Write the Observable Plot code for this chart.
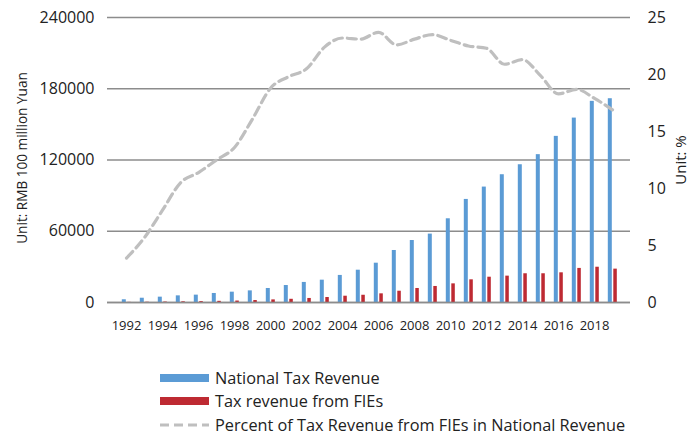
<!DOCTYPE html>
<html>
<head>
<meta charset="utf-8">
<script src="https://cdn.jsdelivr.net/npm/d3@7"></script>
<script src="https://cdn.jsdelivr.net/npm/@observablehq/plot@0.6"></script>
<style>
  body { margin: 0; background: #fff; font-family: "Open Sans", sans-serif; }
  #wrap { position: relative; width: 689px; height: 437px; }
  #legend { position: absolute; left: 160px; top: 366px; font-size: 16.3px; color: #222; }
  .row { display: flex; align-items: center; height: 23.5px; white-space: nowrap; }
  .row svg { margin-right: 6px; }
</style>
</head>
<body>
<div id="wrap">
  <div id="chart"></div>
  <div id="legend"></div>
</div>
<script>
const years = [1992,1993,1994,1995,1996,1997,1998,1999,2000,2001,2002,2003,2004,2005,
               2006,2007,2008,2009,2010,2011,2012,2013,2014,2015,2016,2017,2018,2019];
const nationalTax = [2300,3600,4500,5600,6200,7600,8700,9800,11800,14300,16900,18800,22800,27200,
                     33100,43800,52200,57600,70500,86800,97200,107600,116000,124500,139900,155300,169400,171600];
const fieTax = [120,230,400,600,760,990,1230,1650,2200,2700,3400,4200,5300,6100,
                7300,9500,11800,13500,15700,19100,21300,22200,24200,24200,25000,28700,29700,28100];
const fiePercent = [3.9,5.7,8.1,10.5,11.4,12.5,13.6,16.1,18.8,19.8,20.5,22.4,23.2,23.1,
                    23.7,22.6,23.1,23.5,23.0,22.5,22.3,20.9,21.3,19.9,18.3,18.7,17.9,16.9];
const leftTicks = [0, 60000, 120000, 180000, 240000];
const rightTicks = [0, 5, 10, 15, 20, 25];
const xTicks = [1992,1994,1996,1998,2000,2002,2004,2006,2008,2010,2012,2014,2016,2018];
const seriesNames = ["National Tax Revenue", "Tax revenue from FIEs", "Percent of Tax Revenue from FIEs in National Revenue"];
const colors = ["#5b9bd5", "#be2a32", "#bfbfbf"];

const pctFactor = 240000 / 25; // maps right axis (%) onto left axis domain

const rows = years.map((y, i) => ({year: y, national: nationalTax[i], fie: fieTax[i], pct: fiePercent[i]}));

const chart = Plot.plot({
  width: 689,
  height: 340,
  marginLeft: 107,
  marginRight: 59,
  marginTop: 17,
  marginBottom: 38,
  style: {fontFamily: "Open Sans, sans-serif", color: "#222", background: "#fff", overflow: "visible"},
  x: {type: "band", domain: years, padding: 0},
  y: {domain: [0, 240000]},
  marks: [
    Plot.ruleY(leftTicks, {stroke: "#8c8c8c", strokeWidth: 1.6}),
    Plot.barY(rows, {x: "year", y: "national", fill: colors[0], insetLeft: 4.8, insetRight: 9.2}),
    Plot.barY(rows, {x: "year", y: "fie", fill: colors[1], insetLeft: 10.3, insetRight: 4.2}),
    Plot.ruleY([0], {stroke: "#8c8c8c", strokeWidth: 1.6}),
    Plot.line(rows, {x: "year", y: d => d.pct * pctFactor, stroke: colors[2], strokeWidth: 3.2,
                     strokeDasharray: "9,5", curve: "monotone-x"}),
    Plot.axisY({ticks: leftTicks, tickSize: 0, tickPadding: 13, fontSize: 16, label: null,
                tickFormat: d => String(d)}),
    Plot.axisY({anchor: "right", ticks: rightTicks.map(t => t * pctFactor), tickFormat: d => String(Math.round(d / pctFactor)),
                tickSize: 0, tickPadding: 17, fontSize: 16, label: null}),
    Plot.axisX({ticks: xTicks, tickSize: 0, tickPadding: 18, fontSize: 13, label: null, tickFormat: d => String(d)}),
    Plot.text(["Unit: RMB 100 million Yuan"], {frameAnchor: "left", textAnchor: "middle", dx: -85, dy: -2,
                rotate: -90, fontSize: 13.6, fill: "#222"}),
    Plot.text(["Unit: %"], {frameAnchor: "right", textAnchor: "middle", dx: 51, rotate: -90, fontSize: 15, fill: "#222"})
  ]
});
document.getElementById("chart").appendChild(chart);

const legend = document.getElementById("legend");
seriesNames.forEach((name, i) => {
  const row = document.createElement("div");
  row.className = "row";
  const sw = i < 2
    ? `<svg width="49" height="10"><rect x="0" y="1" width="49" height="8" fill="${colors[i]}"/></svg>`
    : `<svg width="49" height="10"><line x1="0" x2="49" y1="5" y2="5" stroke="${colors[i]}" stroke-width="3" stroke-dasharray="9,5"/></svg>`;
  row.innerHTML = sw + `<span>${name}</span>`;
  legend.appendChild(row);
});
</script>
</body>
</html>
